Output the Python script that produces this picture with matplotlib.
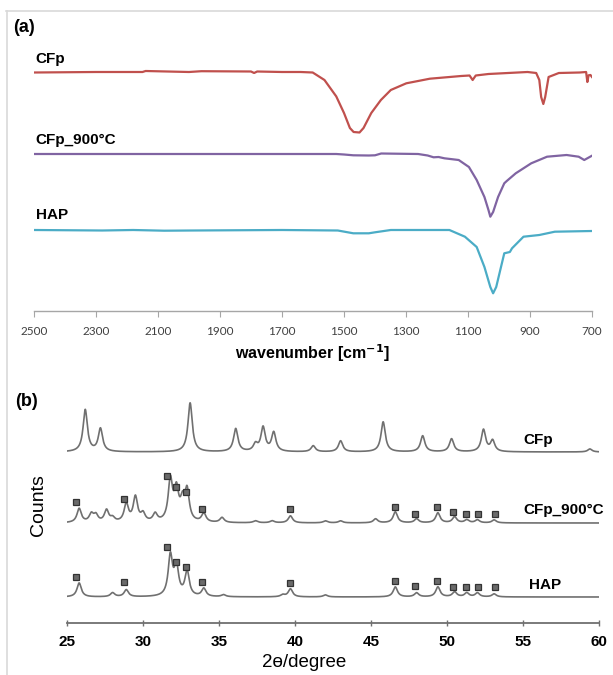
import numpy as np
import matplotlib
matplotlib.use("Agg")
import matplotlib.pyplot as plt
from matplotlib import font_manager
from matplotlib.lines import Line2D

# ---------------- data: FTIR (panel a) ----------------
# transmittance (arbitrary %, baseline 100)
cfp_ir_wn = [2500, 2300, 2150, 2140, 2000, 1960, 1800, 1790, 1780, 1700, 1640, 1601, 1563, 1525,
             1500, 1481, 1469, 1450, 1437, 1412, 1381, 1349, 1299, 1223, 1122, 1095, 1085, 1075,
             1034, 908, 880, 870, 864, 857, 851, 840, 807, 740, 719, 715, 711, 705, 700]
cfp_ir_t = [99.5, 100, 100, 101, 100, 100.8, 100.5, 99, 100.5, 100, 100, 99.5, 92, 75.6,
            59, 44, 40, 39.5, 44, 59, 72, 82, 88.7, 93.3, 96, 96.5, 92, 96.5,
            98, 100, 99, 92, 75, 68, 75, 95, 99, 99.5, 100, 90, 96.7, 97, 95]
cfp900_ir_wn = [2500, 1900, 1525, 1500, 1470, 1420, 1400, 1380, 1261, 1230, 1211, 1195, 1176, 1130,
                1097, 1072, 1047, 1034, 1028, 1019, 1003, 983, 975, 946, 896, 845, 782, 743, 725, 700]
cfp900_ir_t = [100, 100, 100, 99.5, 98.7, 98.5, 98.7, 100.5, 100, 98.5, 96.7, 97, 95.7, 94,
               87, 74, 57, 44, 37.3, 42, 57, 70.7, 73, 80.7, 90.7, 97.3, 99, 97.3, 94, 98.3]
hap_ir_wn = [2500, 2280, 2180, 2080, 1990, 1700, 1520, 1470, 1420, 1400, 1349, 1160, 1110, 1072,
             1047, 1028, 1019, 1009, 983, 965, 958, 921, 870, 820, 700]
hap_ir_t = [100, 99.5, 100, 99.3, 99.5, 100, 99.5, 96.7, 96.7, 97.7, 100, 100, 93.3, 83,
            63, 43, 36.7, 43, 76.7, 78, 81.7, 93.3, 95, 98.3, 99]
ir_offsets = [139, 57, -19]
ir_names = ["CFp", "CFp_900°C", "HAP"]
ir_colors = ["#C0504D", "#8064A2", "#4BACC6"]
ir_ticks = [2500, 2300, 2100, 1900, 1700, 1500, 1300, 1100, 900, 700]

# ---------------- data: XRD (panel b) ----------------
xrd_names = ["CFp", "CFp_900°C", "HAP"]
xrd_baselines = [171, 100, 26]
cfp_pk_pos = [26.2, 27.2, 33.1, 36.1, 37.4, 37.9, 38.6, 41.2, 43.0, 45.8, 48.4, 50.3, 52.4, 53.0, 59.4]
cfp_pk_h = [42, 23, 49, 23, 7, 24, 19, 6, 11, 30, 16, 13, 22, 11, 3]
cfp900_pk_pos = [25.8, 26.6, 26.9, 27.6, 28.0, 28.9, 29.5, 30.0, 30.8, 31.8, 32.2, 32.6, 32.9, 34.0,
                 35.2, 37.4, 38.5, 39.7, 42.0, 43.0, 45.3, 46.6, 48.0, 49.4, 50.5, 51.3, 52.0, 53.1]
cfp900_pk_h = [14, 8, 7, 12, 4, 18, 25, 8, 8, 41, 30, 18, 30, 9,
               5, 2, 2, 7, 2, 2, 4, 11, 4, 10, 6, 3, 3, 3]
hap_pk_pos = [25.8, 28.0, 28.9, 31.8, 32.2, 32.9, 34.0, 35.3, 39.2, 39.7, 42.0, 46.6, 48.0, 49.4,
              50.5, 51.3, 52.0, 53.1]
hap_pk_h = [14, 4, 7, 40, 29, 25, 8, 2, 2, 8, 2, 10, 4, 10, 5, 4, 4, 3]
xrd_peak_fwhm = 0.34

hap_mark_pos = [25.62, 28.78, 31.6, 32.17, 32.81, 33.89, 39.65, 46.59, 47.9, 49.31, 50.39, 51.27, 52.06, 53.14]
cfp900_mark_h = [121, 124, 147, 136, 131, 114, 114, 116, 109, 116, 111, 109, 109, 109]
hap_mark_h = [46, 41, 76, 61, 56, 41, 40, 42, 37, 42, 36, 36, 36, 36]
xrd_ticks = [25, 30, 35, 40, 45, 50, 55, 60]

# ---------------- fonts ----------------
avail = {f.name for f in font_manager.fontManager.ttflist}
fam = ["Liberation Sans", "DejaVu Sans"]
tickfam = ["Lato", "DejaVu Sans"] if "Lato" in avail else fam

W, H = 613, 675
fig = plt.figure(figsize=(W / 100, H / 100), dpi=100)
fig.patch.set_facecolor("white")

# light frame (top & left)
fig.add_artist(Line2D([6 / W, 1], [1 - 11 / H, 1 - 11 / H], color="#d9d9d9", lw=1.2))
fig.add_artist(Line2D([6.5 / W, 6.5 / W], [0, 1 - 11 / H], color="#d9d9d9", lw=1.2))

# ---------------- panel a ----------------
axA = fig.add_axes([34 / W, 1 - 311 / H, 558 / W, 271 / H])
for wn, t, off, c in zip([cfp_ir_wn, cfp900_ir_wn, hap_ir_wn], [cfp_ir_t, cfp900_ir_t, hap_ir_t],
                         ir_offsets, ir_colors):
    axA.plot(wn, np.array(t) + off, color=c, lw=1.6, solid_joinstyle="round")
axA.set_xlim(2500, 700)
axA.set_ylim(0, 271)
for s in ["top", "right", "left"]:
    axA.spines[s].set_visible(False)
axA.spines["bottom"].set_color("#a6a6a6")
axA.spines["bottom"].set_linewidth(1.0)
axA.set_yticks([])
axA.set_xticks(ir_ticks)
axA.tick_params(axis="x", direction="out", length=4, width=0.8, color="#a6a6a6",
                labelsize=8.5, labelcolor="#404040", pad=7)
for lab in axA.get_xticklabels():
    lab.set_family(tickfam)
axA.set_xlabel("wavenumber [cm$^{\\mathbf{-1}}$]", fontsize=11.5, fontweight="bold", family=fam)
axA.xaxis.set_label_coords(0.5, -31 / 271)
label_y = [252, 171, 96]
for name, ly in zip(ir_names, label_y):
    axA.text(2494, ly, name, fontsize=11, fontweight="bold", family=fam, va="center", ha="left")
fig.text(13 / W, 1 - 27 / H, "(a)", fontsize=13, fontweight="bold", family=fam, va="center", ha="left")

# ---------------- panel b ----------------
axB = fig.add_axes([67 / W, 1 - 623 / H, 532 / W, 228 / H])
x = np.linspace(25, 60, 3501)
g = xrd_peak_fwhm / 2
for base, pos, hts in zip(xrd_baselines, [cfp_pk_pos, cfp900_pk_pos, hap_pk_pos],
                          [cfp_pk_h, cfp900_pk_h, hap_pk_h]):
    y = np.full_like(x, float(base))
    for p, h in zip(pos, hts):
        y += h * g ** 2 / ((x - p) ** 2 + g ** 2)
    axB.plot(x, y, color="#707070", lw=1.2)
for mh in [cfp900_mark_h, hap_mark_h]:
    axB.plot(hap_mark_pos, mh, ls="none", marker="s", ms=4.5, mfc="#6a6a6a", mec="#333333", mew=0.9)
axB.set_xlim(25, 60)
axB.set_ylim(0, 228)
for s in ["top", "right", "left"]:
    axB.spines[s].set_visible(False)
axB.spines["bottom"].set_color("#707070")
axB.spines["bottom"].set_linewidth(1.3)
axB.set_yticks([])
axB.set_xticks(xrd_ticks)
axB.tick_params(axis="x", direction="inout", length=5, width=1.0, color="#707070",
                labelsize=11, pad=6)
for lab in axB.get_xticklabels():
    lab.set_fontweight("bold")
    lab.set_family(fam)
axB.set_xlabel("2ɵ/degree", fontsize=13.5, family=fam)
axB.xaxis.set_label_coords(0.446, -31 / 228)
axB.set_ylabel("Counts", fontsize=14, family=fam)
axB.yaxis.set_label_coords((47 - 67) / 532, (623 - 505) / 228)
xrd_label_x = [55.05, 55.05, 55.4]
xrd_label_y = [183, 113, 38]
for name, lx, ly in zip(xrd_names, xrd_label_x, xrd_label_y):
    axB.text(lx, ly, name, fontsize=11, fontweight="bold", family=fam, va="center", ha="left")
fig.text(15 / W, 1 - 401 / H, "(b)", fontsize=13, fontweight="bold", family=fam, va="center", ha="left")

fig.savefig("out.png", dpi=100, facecolor="white")
